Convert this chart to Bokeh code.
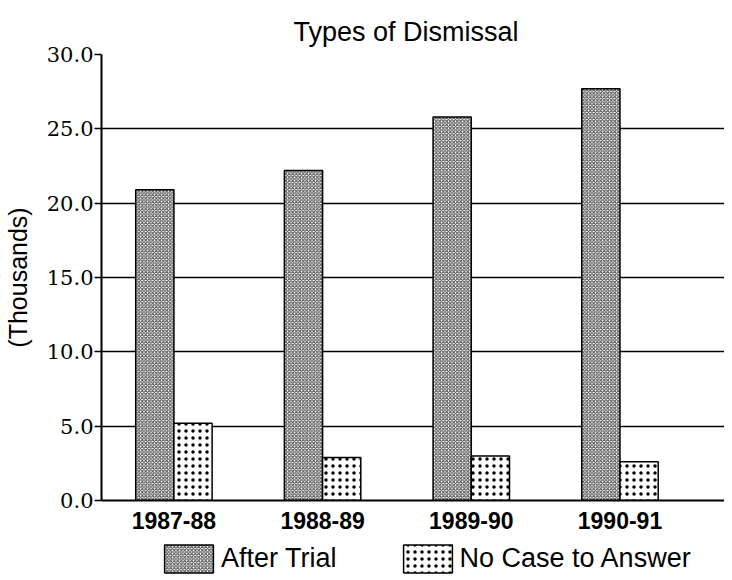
from bokeh.plotting import figure
from bokeh.layouts import column
from bokeh.models import Range1d, FixedTicker, NumeralTickFormatter, Legend, LegendItem, ColumnDataSource
from bokeh.embed import file_html
from bokeh.resources import INLINE
import numpy as np

categories = ["1987-88", "1988-89", "1989-90", "1990-91"]
after_trial = [20.9, 22.2, 25.8, 27.7]
no_case = [5.2, 2.9, 3.0, 2.6]
y_ticks = [0, 5, 10, 15, 20, 25, 30]
series_names = ["After Trial", "No Case to Answer"]

bar_w = 0.257
idx = np.arange(len(categories))

src = ColumnDataSource(dict(
    x_at=idx - bar_w / 2, x_nc=idx + bar_w / 2,
    at=after_trial, nc=no_case, cat=categories))

AT_STYLE = dict(fill_color="#ffffff", hatch_pattern="diagonal_cross", hatch_scale=3.5,
                hatch_weight=1, hatch_color="#404040",
                line_color="black", line_width=1.5)
NC_STYLE = dict(fill_color="#ffffff", hatch_pattern="dot", hatch_scale=7,
                hatch_weight=6, hatch_color="#000000",
                line_color="black", line_width=1.5)

p = figure(width=724, height=536, output_backend="svg", toolbar_location=None,
           x_range=Range1d(-0.487, 3.703), y_range=Range1d(0, 30),
           min_border_left=96, min_border_right=0, min_border_top=54,
           min_border_bottom=36)

p.background_fill_color = "white"
p.border_fill_color = "white"
p.outline_line_color = None

r1 = p.vbar(x="x_at", top="at", bottom=0, width=bar_w, source=src, **AT_STYLE)
r2 = p.vbar(x="x_nc", top="nc", bottom=0, width=bar_w, source=src, **NC_STYLE)

p.title.text = "Types of Dismissal"
p.title.text_font = "Liberation Sans"
p.title.text_font_size = "27px"
p.title.text_font_style = "normal"
p.title.text_color = "black"
p.title.align = "left"
p.title.offset = 192
p.title.standoff = 16

p.xgrid.visible = False
p.ygrid.ticker = FixedTicker(ticks=y_ticks)
p.ygrid.grid_line_color = "black"
p.ygrid.grid_line_width = 1.5

p.yaxis.ticker = FixedTicker(ticks=y_ticks)
p.yaxis.formatter = NumeralTickFormatter(format="0.0")
p.yaxis.axis_line_width = 2
p.yaxis.major_tick_out = 7
p.yaxis.major_tick_in = 0
p.yaxis.major_tick_line_width = 1.5
p.yaxis.minor_tick_line_color = None
p.yaxis.major_label_standoff = 1
p.yaxis.major_label_text_font = "DejaVu Serif"
p.yaxis.major_label_text_font_size = "21px"
p.yaxis.major_label_text_color = "black"
p.yaxis.axis_label = "(Thousands)"
p.yaxis.axis_label_text_font = "Liberation Sans"
p.yaxis.axis_label_text_font_size = "25px"
p.yaxis.axis_label_text_font_style = "normal"
p.yaxis.axis_label_text_color = "black"
p.yaxis.axis_label_standoff = 12

p.xaxis.ticker = FixedTicker(ticks=list(idx))
p.xaxis.major_label_overrides = {int(i): c for i, c in zip(idx, categories)}
p.xaxis.axis_line_width = 2
p.xaxis.major_tick_out = 0
p.xaxis.major_tick_in = 0
p.xaxis.minor_tick_line_color = None
p.xaxis.major_label_standoff = 11
p.xaxis.major_label_text_font = "Liberation Sans"
p.xaxis.major_label_text_font_size = "23px"
p.xaxis.major_label_text_font_style = "bold"
p.xaxis.major_label_text_color = "black"

# legend strip below the chart (its frame is aligned with the chart's frame)
lg = figure(width=724, height=40, output_backend="svg", toolbar_location=None,
            x_range=Range1d(0, 1), y_range=Range1d(0, 1),
            x_axis_location=None, y_axis_location=None,
            min_border_left=96, min_border_right=0, min_border_top=0, min_border_bottom=0)
lg.outline_line_color = None
lg.grid.visible = False
lg.background_fill_color = "white"
lg.border_fill_color = "white"
l1 = lg.vbar(x="x_at", top="at", bottom=0, width=bar_w, source=src, visible=False, **AT_STYLE)
l2 = lg.vbar(x="x_nc", top="nc", bottom=0, width=bar_w, source=src, visible=False, **NC_STYLE)

legend = Legend(items=[LegendItem(label=series_names[0], renderers=[l1]),
                       LegendItem(label=series_names[1], renderers=[l2])],
                location=(57, 0), orientation="horizontal")
legend.border_line_color = None
legend.background_fill_alpha = 0
legend.padding = 0
legend.margin = 0
legend.spacing = 60
legend.label_standoff = 2
legend.glyph_width = 61
legend.glyph_height = 35
legend.label_text_font = "Liberation Sans"
legend.label_text_font_size = "27px"
legend.label_text_color = "black"
legend.label_height = 35
lg.add_layout(legend, "center")

layout = column(p, lg, spacing=0)
open("out.html", "w").write(file_html(layout, INLINE))
